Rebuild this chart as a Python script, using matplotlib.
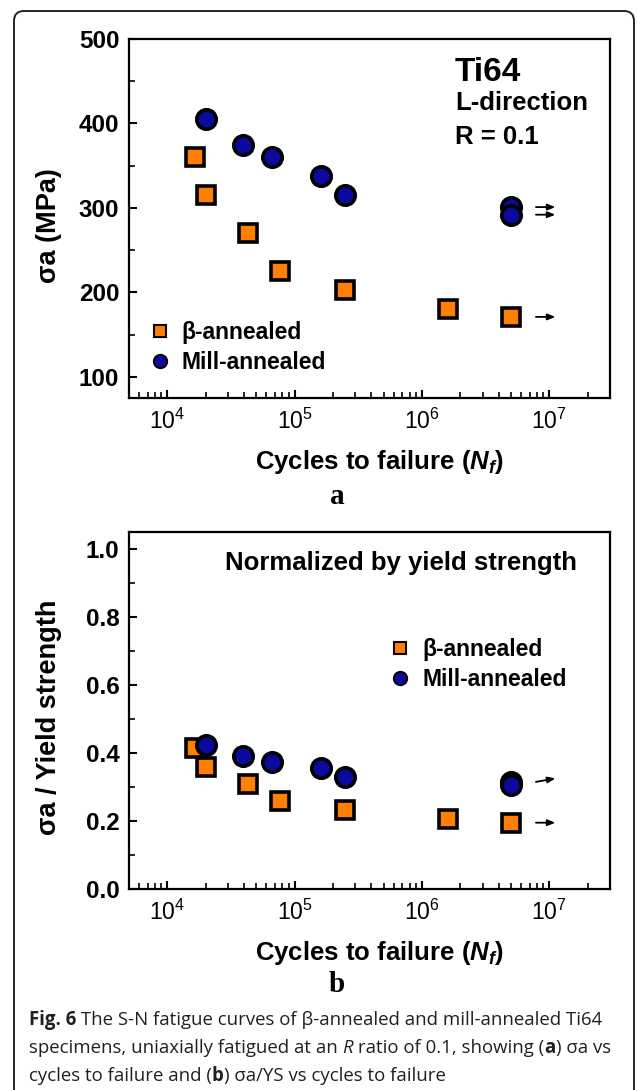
import matplotlib
matplotlib.use("Agg")
import matplotlib.pyplot as plt
from matplotlib.lines import Line2D
from matplotlib.patches import FancyBboxPatch
from matplotlib.transforms import offset_copy

plt.rcParams['font.family'] = ['Liberation Sans', 'DejaVu Sans']
plt.rcParams['mathtext.fontset'] = 'custom'
plt.rcParams['mathtext.it'] = 'Liberation Sans:italic:bold'
plt.rcParams['mathtext.rm'] = 'Liberation Sans'
plt.rcParams['mathtext.bf'] = 'Liberation Sans:bold'

# ---- data ----
beta_cycles = [1.66e4, 2.0e4, 4.3e4, 7.7e4, 2.5e5, 1.6e6, 5.0e6]
beta_stress = [360, 315, 270, 225, 203, 180, 171]
mill_cycles = [2.0e4, 3.9e4, 6.6e4, 1.6e5, 2.5e5, 5.0e6, 5.0e6]
mill_stress = [405, 374, 360, 338, 315, 301, 292]

beta_norm = [0.415, 0.36, 0.31, 0.26, 0.233, 0.205, 0.195]
mill_norm = [0.425, 0.39, 0.375, 0.355, 0.33, 0.315, 0.305]

# runouts (index of points with arrows)
beta_runout = [6]
mill_runout_a = [5, 6]
mill_runout_b = [5]

xticks = [1e4, 1e5, 1e6, 1e7]
xticklabels = [r'$\mathregular{10^{4}}$', r'$\mathregular{10^{5}}$', r'$\mathregular{10^{6}}$', r'$\mathregular{10^{7}}$']
yticks_a = [100, 200, 300, 400, 500]
yticks_b = [0.0, 0.2, 0.4, 0.6, 0.8, 1.0]

ORANGE = '#FF8000'
BLUE = '#0A0A9E'

fig = plt.figure(figsize=(6.37, 10.9), dpi=100)
W, H = 637, 1090

def axpos(l, r, t, b):
    return [l / W, 1 - b / H, (r - l) / W, (b - t) / H]

ax1 = fig.add_axes(axpos(129, 610, 39, 398))
ax2 = fig.add_axes(axpos(129, 610, 532, 889))

def style(ax, yticks, ylim, fmt):
    ax.set_xscale('log')
    ax.set_xlim(5e3, 3e7)
    ax.set_ylim(*ylim)
    ax.set_xticks(xticks)
    ax.set_xticklabels(xticklabels, fontsize=16.5)
    ax.set_yticks(yticks)
    ax.set_yticklabels([fmt(v) for v in yticks], fontsize=17.5, fontweight='bold')
    ax.tick_params(which='major', direction='in', length=6, width=1.5, pad=7)
    ax.tick_params(axis='x', which='major', pad=8)
    ax.tick_params(which='minor', direction='in', length=4, width=1.2)
    for s in ax.spines.values():
        s.set_linewidth(1.6)

style(ax1, yticks_a, (75, 500), lambda v: f'{v:d}')
ax1.set_yticks([150, 250, 350, 450], minor=True)
style(ax2, yticks_b, (0, 1.05), lambda v: f'{v:.1f}')
ax2.set_yticks([0.1, 0.3, 0.5, 0.7, 0.9], minor=True)

ms = 14
for ax, by, my in [(ax1, beta_stress, mill_stress), (ax2, beta_norm, mill_norm)]:
    ax.plot(beta_cycles, by, linestyle='none', marker='s', markersize=ms - 1,
            markerfacecolor=ORANGE, markeredgecolor='black', markeredgewidth=2.6, zorder=3)
    ax.plot(mill_cycles, my, linestyle='none', marker='o', markersize=ms,
            markerfacecolor=BLUE, markeredgecolor='black', markeredgewidth=2.6, zorder=4)

def draw_arrow(ax, x, y, dy_pts=0.0):
    t = ax.transData
    start = offset_copy(t, fig=fig, x=18, y=0, units='points')
    end = offset_copy(t, fig=fig, x=32, y=dy_pts, units='points')
    ax.annotate('', xy=(x, y), xycoords=end, xytext=(x, y), textcoords=start,
                annotation_clip=False,
                arrowprops=dict(arrowstyle='-|>,head_length=0.45,head_width=0.18',
                                color='black', lw=1.3, shrinkA=0, shrinkB=0))

for i in beta_runout:
    draw_arrow(ax1, beta_cycles[i], beta_stress[i])
for i in mill_runout_a:
    draw_arrow(ax1, mill_cycles[i], mill_stress[i])
for i in beta_runout:
    draw_arrow(ax2, beta_cycles[i], beta_norm[i])
for i in mill_runout_b:
    draw_arrow(ax2, mill_cycles[i], mill_norm[i], dy_pts=2.5)

# labels
ax1.set_ylabel('σa (MPa)', fontsize=19.5, fontweight='bold')
ax2.set_ylabel('σa / Yield strength', fontsize=19.5, fontweight='bold')
ax1.yaxis.set_label_coords(-0.14, 0.48)
ax2.yaxis.set_label_coords(-0.14, 0.48)
for ax in (ax1, ax2):
    ax.set_xlabel(r'Cycles to failure ($N_f$)', fontsize=18.5, fontweight='bold')
    ax.xaxis.set_label_coords(0.52, -0.14)

fig.text(337 / W, 1 - 497 / H, 'a', family='Liberation Serif', fontweight='bold', fontsize=21,
         ha='center', va='center')
fig.text(337 / W, 1 - 985 / H, 'b', family='Liberation Serif', fontweight='bold', fontsize=21,
         ha='center', va='center')

ax1.text(0.678, 0.908, 'Ti64', transform=ax1.transAxes, fontsize=24, fontweight='bold',
         ha='left', va='center')
ax1.text(0.678, 0.822, 'L-direction', transform=ax1.transAxes, fontsize=18.5, fontweight='bold',
         ha='left', va='center')
ax1.text(0.678, 0.727, 'R = 0.1', transform=ax1.transAxes, fontsize=18.5, fontweight='bold',
         ha='left', va='center')
ax2.text(0.566, 0.913, 'Normalized by yield strength', transform=ax2.transAxes, fontsize=18.5,
         fontweight='bold', ha='center', va='center')

handles = [Line2D([], [], linestyle='none', marker='s', markersize=8.5, markerfacecolor=ORANGE,
                  markeredgecolor='black', markeredgewidth=1.5, label='β-annealed'),
           Line2D([], [], linestyle='none', marker='o', markersize=9.5, markerfacecolor=BLUE,
                  markeredgecolor='black', markeredgewidth=1.5, label='Mill-annealed')]
ax1.legend(handles=handles, loc='center left', bbox_to_anchor=(0.045, 0.14), frameon=False,
           prop=dict(size=16.5, weight='bold'), handlelength=0.8, handletextpad=0.55,
           labelspacing=0.3, borderaxespad=0, borderpad=0)
ax2.legend(handles=handles, loc='center left', bbox_to_anchor=(0.545, 0.63), frameon=False,
           prop=dict(size=16.5, weight='bold'), handlelength=0.8, handletextpad=0.55,
           labelspacing=0.3, borderaxespad=0, borderpad=0)

# outer rounded frame (inches)
frame = FancyBboxPatch((0.14, -0.2), 6.20, 10.99,
                       boxstyle='round,pad=0,rounding_size=0.1',
                       transform=fig.dpi_scale_trans, facecolor='none',
                       edgecolor='#222222', linewidth=1.4)
fig.add_artist(frame)

# caption
cap_lines = [
    [('Fig. 6', 'bold', 'normal'), (' The S-N fatigue curves of β-annealed and mill-annealed Ti64', 'normal', 'normal')],
    [('specimens, uniaxially fatigued at an ', 'normal', 'normal'), ('R', 'normal', 'italic'),
     (' ratio of 0.1, showing (', 'normal', 'normal'), ('a', 'bold', 'normal'), (') σa vs', 'normal', 'normal')],
    [('cycles to failure and (', 'normal', 'normal'), ('b', 'bold', 'normal'),
     (') σa/YS vs cycles to failure', 'normal', 'normal')],
]
cap_y = [1020, 1048, 1076]
renderer = fig.canvas.get_renderer()
for segs, yy in zip(cap_lines, cap_y):
    xpx = 29
    for txt, wt, st in segs:
        t = fig.text(xpx / W, 1 - yy / H, txt, family=['Open Sans', 'DejaVu Sans'],
                     fontsize=13.4, fontweight=wt, fontstyle=st, color='#231f20',
                     ha='left', va='center')
        bb = t.get_window_extent(renderer=renderer)
        xpx += bb.width

fig.savefig('out.png', dpi=100)
